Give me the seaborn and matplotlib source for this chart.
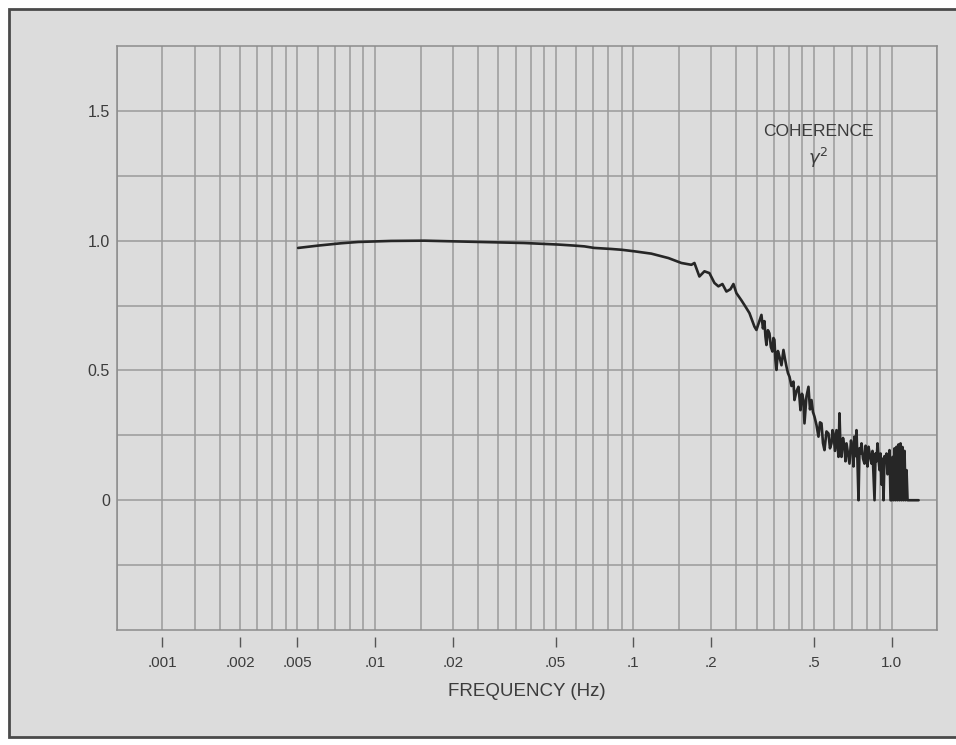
import numpy as np
import pandas as pd
import matplotlib
matplotlib.use("Agg")
import matplotlib.pyplot as plt
from matplotlib.ticker import FixedLocator, NullLocator
from matplotlib.patches import Rectangle
import seaborn as sns

# ---------------- data ----------------
freq_hz = [0.00503, 0.00601, 0.00738, 0.00859, 0.01153, 0.0155, 0.0210, 0.0282, 0.0378,
           0.0512, 0.0591, 0.0646, 0.0706, 0.0822, 0.0899, 0.1009, 0.1174, 0.1367, 0.1535,
           0.1678, 0.1724, 0.1802, 0.1885, 0.1971, 0.2061, 0.2135, 0.2213, 0.2293, 0.2377,
           0.2441, 0.2507, 0.2622, 0.2717, 0.2816, 0.2944, 0.2997,
           0.3134, 0.3176, 0.3219, 0.3248, 0.3277, 0.3320, 0.3366, 0.3410, 0.3457, 0.3488,
           0.3519, 0.3551, 0.3583, 0.3630, 0.3680, 0.3747, 0.3814, 0.3865, 0.3917, 0.3970,
           0.4024, 0.4097, 0.4170, 0.4207, 0.4283, 0.4360, 0.4400, 0.4439, 0.4500, 0.4559,
           0.4600, 0.4683, 0.4767, 0.4832, 0.4897, 0.4963, 0.5030, 0.5120, 0.5212, 0.5283,
           0.5354, 0.5426, 0.5499, 0.5598, 0.5698, 0.5775, 0.5853, 0.5906, 0.5959, 0.6040,
           0.6120, 0.6175, 0.6231, 0.6286, 0.6343, 0.6400, 0.6486, 0.6573, 0.6632, 0.6692,
           0.6782, 0.6873, 0.6966, 0.7060, 0.7123, 0.7187, 0.7250, 0.7316, 0.7380, 0.7449,
           0.7515, 0.7582, 0.7651, 0.7755, 0.7858, 0.7930, 0.8000, 0.8072, 0.8145, 0.8255,
           0.8366, 0.8440, 0.8515, 0.8592, 0.8670, 0.8748, 0.8825, 0.8905, 0.8985, 0.9065,
           0.9146, 0.9230, 0.9311, 0.9393, 0.9475, 0.9560, 0.9648, 0.9736, 0.9822,
           0.9911, 1.0000, 1.0090, 1.0181, 1.0271, 1.0363, 1.0457, 1.0550, 1.0644,
           1.0740, 1.0836, 1.0934, 1.1030, 1.1130, 1.1230, 1.1331, 1.1432, 1.1535, 1.2728]
coherence = [0.972, 0.981, 0.990, 0.995, 0.999, 1.000, 0.997, 0.994, 0.991,
             0.985, 0.981, 0.978, 0.972, 0.968, 0.965, 0.959, 0.950, 0.933, 0.914,
             0.907, 0.914, 0.862, 0.882, 0.875, 0.837, 0.824, 0.833, 0.804, 0.813,
             0.833, 0.798, 0.770, 0.746, 0.721, 0.669, 0.656,
             0.714, 0.662, 0.690, 0.630, 0.598, 0.655, 0.643, 0.590, 0.573, 0.625,
             0.618, 0.540, 0.502, 0.575, 0.553, 0.520, 0.579, 0.545, 0.515, 0.490,
             0.476, 0.440, 0.457, 0.386, 0.420, 0.437, 0.395, 0.347, 0.410, 0.386,
             0.296, 0.400, 0.437, 0.350, 0.386, 0.340, 0.322, 0.290, 0.245, 0.300,
             0.296, 0.220, 0.193, 0.265, 0.257, 0.200, 0.219, 0.270, 0.257, 0.190,
             0.270, 0.220, 0.167, 0.335, 0.200, 0.167, 0.240, 0.206, 0.150, 0.219,
             0.180, 0.141, 0.230, 0.200, 0.130, 0.245, 0.170, 0.270, 0.150, 0.000,
             0.200, 0.180, 0.219, 0.160, 0.141, 0.210, 0.190, 0.130, 0.206, 0.170,
             0.141, 0.190, 0.100, 0.000, 0.180, 0.150, 0.219, 0.160, 0.116, 0.180,
             0.060, 0.160, 0.000, 0.170, 0.150, 0.180, 0.100, 0.120, 0.193,
             0.000, 0.000, 0.167, 0.000, 0.200, 0.000, 0.206, 0.000, 0.215,
             0.000, 0.219, 0.000, 0.205, 0.000, 0.190, 0.000, 0.116, 0.000, 0.000]

tick_positions = [0.0015, 0.003, 0.005, 0.01, 0.02, 0.05, 0.1, 0.2, 0.5, 1.0]
tick_labels = [".001", ".002", ".005", ".01", ".02", ".05", ".1", ".2", ".5", "1.0"]
y_ticks = [-0.25, 0.0, 0.25, 0.5, 0.75, 1.0, 1.25, 1.5]
y_labels = ["", "0", "", "0.5", "", "1.0", "", "1.5"]
grid_multipliers = [1, 1.5, 2, 2.5, 3, 3.5, 4, 4.5, 5, 6, 7, 8, 9]
grid_decades = [0.001, 0.01, 0.1, 1.0]

df = pd.DataFrame({"freq": freq_hz, "coh": coherence})

# ---------------- style ----------------
sns.set_style("white")
plt.rcParams["font.family"] = ["Liberation Sans", "DejaVu Sans"]
bg = "#dcdcdc"
grid_c = "#9a9a9a"
txt_c = "#3c3c3c"

fig = plt.figure(figsize=(9.56, 7.45), dpi=100, facecolor="white")
fig.patches.append(Rectangle((9 / 956, 8 / 745), 1.0, 1 - 17 / 745,
                             transform=fig.transFigure, facecolor=bg,
                             edgecolor="#4a4a4a", linewidth=2.0, zorder=-5))

ax = fig.add_axes([117 / 956, 1 - 630 / 745, 820 / 956, 584 / 745])
ax.set_zorder(1)
ax.set_facecolor(bg)

sns.lineplot(data=df, x="freq", y="coh", ax=ax, color="#262626", linewidth=1.9,
             sort=False, estimator=None, zorder=3)

ax.set_xscale("log")
ax.set_xlim(0.001, 1.5)
ax.set_ylim(-0.5, 1.75)

grid_vals = [d * m for d in grid_decades for m in grid_multipliers if d * m <= 1.5]
ax.xaxis.set_major_locator(FixedLocator(grid_vals))
ax.xaxis.set_minor_locator(NullLocator())
ax.tick_params(axis="x", which="both", bottom=False, top=False, labelbottom=False)
ax.set_yticks(y_ticks)
ax.set_yticklabels(y_labels)
ax.tick_params(axis="y", length=0, pad=5, labelsize=11.5, labelcolor=txt_c)
ax.grid(True, which="major", color=grid_c, linewidth=1.1)
for s in ax.spines.values():
    s.set_color("#8c8c8c")
    s.set_linewidth(1.1)
ax.set_xlabel("")
ax.set_ylabel("")

sec = ax.secondary_xaxis(-0.012)
sec.set_xticks(tick_positions)
sec.set_xticklabels(tick_labels)
sec.xaxis.set_minor_locator(NullLocator())
sec.spines["bottom"].set_visible(False)
sec.tick_params(axis="x", length=7.5, width=1.0, color="#555555", pad=6,
                labelsize=11, labelcolor=txt_c)

fig.text(527 / 956, 1 - 691 / 745, "FREQUENCY (Hz)", ha="center", va="center",
         fontsize=13.5, color=txt_c)

ax.text(0.52, 1.42, "COHERENCE", ha="center", va="center", fontsize=12.5, color=txt_c)
ax.text(0.52, 1.32, r"$\gamma^2$", ha="center", va="center", fontsize=13, color=txt_c)

fig.savefig("out.png", dpi=100, facecolor=fig.get_facecolor())
